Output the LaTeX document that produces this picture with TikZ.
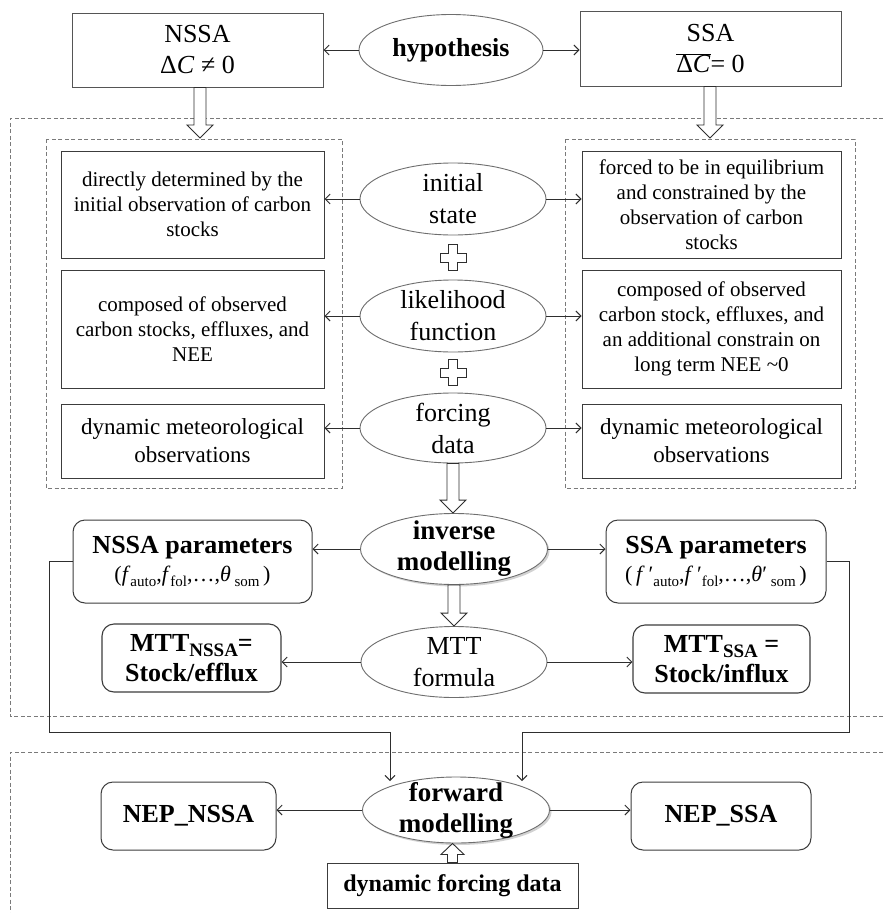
\documentclass[tikz,border=0pt]{standalone}
\usepackage{fontspec}
\setmainfont{Liberation Serif}
\usetikzlibrary{shapes.geometric,shadows,calc,arrows.meta}
\definecolor{boxc}{HTML}{3C3C3C}
\definecolor{topc}{HTML}{555555}
\definecolor{ellc}{HTML}{6E6E6E}
\definecolor{dashc}{HTML}{7A7A7A}
\definecolor{arrc}{HTML}{2E2E2E}
\newcommand{\mysub}[1]{\raisebox{-0.45ex}{\fontsize{15}{15}\selectfont #1}}
\newcommand{\mysubb}[1]{\raisebox{-0.4ex}{\fontsize{19}{19}\selectfont\bfseries #1}}
\begin{document}
\begin{tikzpicture}[x=1pt,y=-1pt,
  dashreg/.style={draw=dashc, line width=0.8pt, dash pattern=on 4pt off 2.5pt},
  box/.style={draw=boxc, line width=1pt, rectangle, inner sep=0pt, align=center, font=\fontsize{21}{25}\selectfont},
  boxbig/.style={box, font=\fontsize{23}{28}\selectfont},
  topbox/.style={box, draw=topc, line width=1pt, font=\fontsize{26}{31}\selectfont, fill=white,
     drop shadow={shadow xshift=1.2pt, shadow yshift=-1.2pt, opacity=0.18}},
  rbox/.style={box, rounded corners=12pt, font=\fontsize{26}{31}\selectfont\bfseries},
  ell/.style={ellipse, draw=ellc, line width=0.9pt, inner sep=0pt, fill=white},
  ellsh/.style={ell, drop shadow={shadow xshift=2pt, shadow yshift=-2pt, opacity=0.35}},
  elltext/.style={align=center, inner sep=0pt, font=\fontsize{26}{32}\selectfont},
  ellbold/.style={elltext, font=\fontsize{27}{31}\selectfont\bfseries},
  arr/.style={draw=arrc, line width=0.9pt, -{Straight Barb[length=5pt,width=10pt]}},
  plusst/.style={draw=arrc, line width=0.9pt, fill=white},
  blockdown/.style={draw=arrc, fill=white, line width=0.9pt,
    to path={let \p1=(\tikztostart), \p2=(\tikztotarget) in
      (\x1-6pt,\y1) -- (\x1-6pt,\y2+13pt) -- (\x1-13pt,\y2+13pt) -- (\x1,\y2)
      -- (\x1+13pt,\y2+13pt) -- (\x1+6pt,\y2+13pt) -- (\x1+6pt,\y1) -- cycle}},
  blockup/.style={draw=arrc, fill=white, line width=0.9pt,
    to path={let \p1=(\tikztostart), \p2=(\tikztotarget) in
      (\x1-5pt,\y1) -- (\x1-5pt,\y2-11pt) -- (\x1-11.5pt,\y2-11pt) -- (\x1,\y2)
      -- (\x1+11.5pt,\y2-11pt) -- (\x1+5pt,\y2-11pt) -- (\x1+5pt,\y1) -- cycle}}
]
\useasboundingbox (0,0) rectangle (883,913);
\fill[white] (0,0) rectangle (883,913);

% dashed regions
\draw[dashreg] (883,118) -- (10,118) -- (10,716) -- (883,716);
\draw[dashreg] (46,139) rectangle (342,488);
\draw[dashreg] (565,139) rectangle (855,488);
\draw[dashreg] (883,752) -- (10,752) -- (10,913);

% top row
\node[topbox, minimum width=251pt, minimum height=74pt] (nssa) at (197.5,50) {NSSA\\Δ\textit{C} ≠ 0};
\node[ell, minimum width=184pt, minimum height=71pt] (hyp) at (451,50) {};
\node[elltext, font=\fontsize{26}{31}\selectfont\bfseries] (hypt) at (hyp) {hypothesis};
\node[topbox, minimum width=261pt, minimum height=75pt] (ssa) at (710.5,48.5) {SSA\\$\overline{\hbox{Δ\textit{C}}}$= 0};
\draw[arr] (hyp.west) -- (hyp.west -| nssa.east);
\draw[arr] (hyp.east) -- (hyp.east -| ssa.west);

\coordinate (t1) at (200,138);
\coordinate (t2) at (710,138);
\draw[blockdown] (t1 |- nssa.south) to (t1);
\draw[blockdown] (t2 |- ssa.south) to (t2);

% middle ellipses
\node[ell, minimum width=186pt, minimum height=72pt] (init) at (453,199) {};
\node[elltext] (initt) at (init) {initial\\state};
\node[ell, minimum width=186pt, minimum height=72pt] (like) at (453,316) {};
\node[elltext] (liket) at (like) {likelihood\\function};
\node[ell, minimum width=186pt, minimum height=70pt] (force) at (453,428) {};
\node[elltext] (forcet) at (force) {forcing\\data};

\coordinate (p1) at ($(init.south)!0.5!(like.north)$);
\coordinate (p2) at ($(like.south)!0.5!(force.north)$);
\foreach \p in {p1,p2}{
  \draw[plusst] (\p) ++(-4.5,-13) -- ++(9,0) -- ++(0,8.5) -- ++(8.5,0) -- ++(0,9) -- ++(-8.5,0)
    -- ++(0,8.5) -- ++(-9,0) -- ++(0,-8.5) -- ++(-8.5,0) -- ++(0,-9) -- ++(8.5,0) -- cycle;
}

% left boxes
\node[box, minimum width=263pt, minimum height=107pt] (lb1) at (192.5,204.5)
  {directly determined by the\\initial observation of carbon\\stocks};
\node[box, minimum width=263pt, minimum height=118pt] (lb2) at (192.5,329)
  {composed of observed\\carbon stocks, effluxes, and\\NEE};
\node[boxbig, minimum width=263pt, minimum height=74pt] (lb3) at (192.5,441)
  {dynamic meteorological\\observations};
% right boxes
\node[box, minimum width=259pt, minimum height=107pt] (rb1) at (711.5,204.5)
  {forced to be in equilibrium\\and constrained by the\\observation of carbon\\stocks};
\node[box, minimum width=259pt, minimum height=118pt] (rb2) at (711.5,329)
  {composed of observed\\carbon stock, effluxes, and\\an additional constrain on\\long term NEE \textasciitilde0};
\node[boxbig, minimum width=259pt, minimum height=74pt] (rb3) at (711.5,441)
  {dynamic meteorological\\observations};

\draw[arr] (init.west) -- (init.west -| lb1.east);
\draw[arr] (init.east) -- (init.east -| rb1.west);
\draw[arr] (like.west) -- (like.west -| lb2.east);
\draw[arr] (like.east) -- (like.east -| rb2.west);
\draw[arr] (force.west) -- (force.west -| lb3.east);
\draw[arr] (force.east) -- (force.east -| rb3.west);

% inverse modelling
\node[ellsh, minimum width=187pt, minimum height=71pt] (inv) at (454,549) {};
\node[ellbold] (invt) at (inv) {inverse\\modelling};
\draw[blockdown] (force.south) to (force.south |- inv.north);

\node[rbox, minimum width=239pt, minimum height=83pt] (npar) at (192.5,561.5)
  {NSSA parameters\\[-3pt]{\fontsize{22}{26}\mdseries(\textit{f}\mysub{auto},\textit{f}\mysub{fol},…,\textit{θ}\,\mysub{som}\,)}};
\node[rbox, minimum width=220pt, minimum height=83pt] (spar) at (716,561.5)
  {SSA parameters\\[-3pt]{\fontsize{22}{26}\mdseries(\,\textit{f}\,′\mysub{auto},\textit{f}\,′\mysub{fol},…,\textit{θ}′\,\mysub{som}\,)}};
\draw[arr] (inv.west) -- (inv.west -| npar.east);
\draw[arr] (inv.east) -- (inv.east -| spar.west);

% MTT
\node[ell, minimum width=186pt, minimum height=71pt] (mtt) at (454,662) {};
\node[elltext] (mttt) at (mtt) {MTT\\formula};
\draw[blockdown] (inv.south) to (inv.south |- mtt.north);
\node[rbox, line width=1.1pt, minimum width=179pt, minimum height=68pt, font=\fontsize{26}{30}\selectfont\bfseries] (mn) at (191.5,658)
  {MTT\mysubb{NSSA}=\\Stock/efflux};
\node[rbox, line width=1.1pt, minimum width=177pt, minimum height=68pt, font=\fontsize{26}{30}\selectfont\bfseries] (ms) at (721.5,659)
  {MTT\mysubb{SSA} =\\Stock/influx};
\draw[arr] (mtt.west) -- (mtt.west -| mn.east);
\draw[arr] (mtt.east) -- (mtt.east -| ms.west);

% forward modelling
\node[ellsh, minimum width=187pt, minimum height=66pt] (fwd) at (456,810) {};
\node[ellbold] (fwdt) at (fwd) {forward\\modelling};
\node[rbox, minimum width=175pt, minimum height=68pt] (nn) at (188.5,816) {NEP\_NSSA};
\node[rbox, minimum width=180pt, minimum height=68pt] (ns) at (721,816) {NEP\_SSA};
\draw[arr] (fwd.west) -- (fwd.west -| nn.east);
\draw[arr] (fwd.east) -- (fwd.east -| ns.west);
\node[box, minimum width=251pt, minimum height=45pt, font=\fontsize{24}{28}\selectfont\bfseries] (dyn) at (452.5,885.5) {dynamic forcing data};
\draw[blockup] (dyn.north) to (dyn.north |- fwd.south);

% long connectors
\coordinate (fl) at (390,781);
\coordinate (fr) at (522,781);
\draw[arr] (npar.west) -| (49,732) -| (fl);
\draw[arr] (spar.east) -| (849,732) -| (fr);
\end{tikzpicture}
\end{document}
